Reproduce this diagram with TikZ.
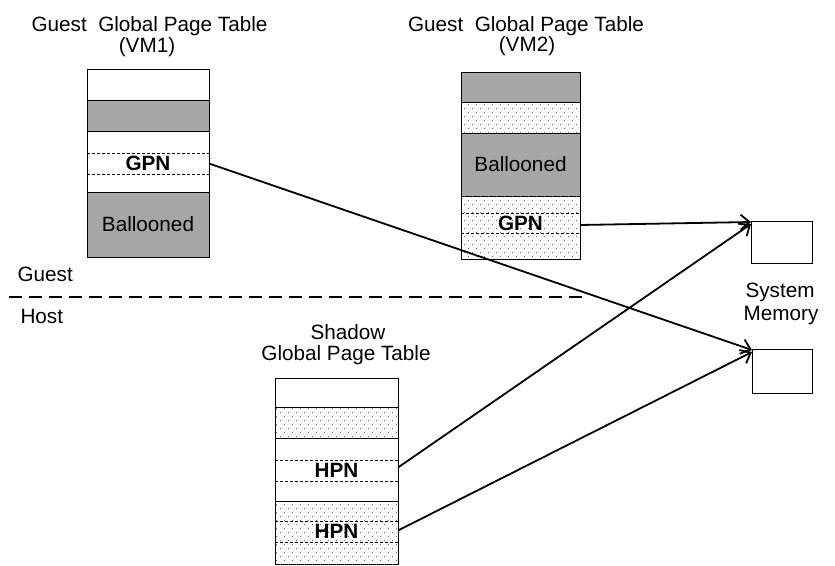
\documentclass[tikz,border=0pt]{standalone}
\usepackage{fontspec}
\setmainfont{Liberation Sans}
\usetikzlibrary{arrows.meta,patterns.meta}
\definecolor{boxgray}{RGB}{166,166,166}
\definecolor{dotgray}{RGB}{100,100,100}
\tikzdeclarepattern{
  name=sparsedots,
  type=uncolored,
  bottom left={(-0.5pt,-0.5pt)},
  top right={(7.5pt,7.5pt)},
  tile size={(8pt,8pt)},
  code={
    \fill (0pt,0pt) rectangle (1pt,1pt);
    \fill (4pt,4pt) rectangle (5pt,5pt);
  }
}
\tikzset{
  cell/.style={draw, line width=0.9pt, inner sep=0pt, outer sep=0pt},
  grayc/.style={cell, fill=boxgray},
  whitec/.style={cell, fill=white},
  dotc/.style={cell, fill=white, postaction={pattern=sparsedots, pattern color=dotgray}},
  strip/.style={inner sep=0pt, outer sep=0pt},
  dashedge/.style={line width=0.9pt, dash pattern=on 3pt off 2pt},
  arr/.style={line width=1.8pt, -{Straight Barb[length=9pt,width=15pt,line width=1.8pt]}},
  label/.style={anchor=base}
}
\begin{document}
\begin{tikzpicture}[x=1pt,y=-1pt,font=\fontsize{20.7}{24}\selectfont]
\useasboundingbox (0,0) rectangle (835,565);
\fill[white] (0,0) rectangle (835,565);

% ---- VM1 table ----
\node[whitec, minimum width=122pt, minimum height=31pt] (a1) at (148,84.5) {};
\node[grayc,  minimum width=122pt, minimum height=31pt] (a2) at (148,115.5) {};
\node[whitec, minimum width=122pt, minimum height=61pt] (a3) at (148,161.5) {};
\node[strip,  minimum width=122pt, minimum height=21pt] (gpn1) at (148,163.5) {\bfseries GPN};
\node[grayc,  minimum width=122pt, minimum height=65pt] (a4) at (148,224.5) {Ballooned};
\draw[dashedge] (gpn1.north west) -- (gpn1.north east);
\draw[dashedge] (gpn1.south west) -- (gpn1.south east);

% ---- VM2 table ----
\node[grayc, minimum width=119pt, minimum height=30pt] (b1) at (520.5,87) {};
\node[dotc,  minimum width=119pt, minimum height=31pt] (b2) at (520.5,117.5) {};
\node[grayc, minimum width=119pt, minimum height=63pt] (b3) at (520.5,164.5) {Ballooned};
\node[dotc,  minimum width=119pt, minimum height=63pt] (b4) at (520.5,227.5) {};
\node[strip, minimum width=119pt, minimum height=20pt] (gpn2) at (520.5,223) {\bfseries GPN};
\draw[dashedge] (gpn2.north west) -- (gpn2.north east);
\draw[dashedge] (gpn2.south west) -- (gpn2.south east);

% ---- Shadow table ----
\node[whitec, minimum width=123pt, minimum height=29pt] (c1) at (336.5,392.5) {};
\node[dotc,   minimum width=123pt, minimum height=31pt] (c2) at (336.5,422.5) {};
\node[whitec, minimum width=123pt, minimum height=63pt] (c3) at (336.5,469.5) {};
\node[strip,  minimum width=123pt, minimum height=21pt] (hpn1) at (336.5,470.5) {\bfseries HPN};
\node[dotc,   minimum width=123pt, minimum height=63pt] (c4) at (336.5,532.5) {};
\node[strip,  minimum width=123pt, minimum height=21pt] (hpn2) at (336.5,531.5) {\bfseries HPN};
\draw[dashedge] (hpn1.north west) -- (hpn1.north east);
\draw[dashedge] (hpn1.south west) -- (hpn1.south east);
\draw[dashedge] (hpn2.north west) -- (hpn2.north east);
\draw[dashedge] (hpn2.south west) -- (hpn2.south east);

% ---- System memory ----
\node[whitec, minimum width=61pt, minimum height=42pt] (m1) at (781.5,242) {};
\node[whitec, minimum width=60pt, minimum height=44pt] (m2) at (782,371) {};

% ---- texts ----
\node[label] (t1a) at (149.5,31.5) {Guest\ \ Global Page Table};
\node[label] (t1b) at (147,52) {(VM1)};
\node[label] (t2a) at (526,31) {Guest\ \ Global Page Table};
\node[label] (t2b) at (527,51.5) {(VM2)};
\node[label] (t3a) at (348,339) {Shadow};
\node[label] (t3b) at (346,360) {Global Page Table};
\node[anchor=base west] (guest) at (14,281) {Guest};
\node[anchor=base west] (host) at (17,323) {Host};
\node[label] (sys) at (780,297) {System};
\node[label] (mem) at (781,320) {Memory};

% ---- guest/host separator ----
\coordinate (sepL) at (9,297);
\coordinate (sepR) at (583,297);
\draw[line width=1.8pt, dash pattern=on 13pt off 7pt] (sepL) -- (sepR);

% ---- arrows ----
\draw[arr] (gpn1.east) -- ([yshift=-1pt]m2.north west);
\draw[arr] ([yshift=-2pt]gpn2.east) -- ([yshift=-1pt]m1.north west);
\draw[arr] ([yshift=3pt]hpn1.east) -- ([yshift=-3pt]m1.north west);
\draw[arr] ([yshift=1pt]hpn2.east) -- ([yshift=-3pt]m2.north west);
\end{tikzpicture}
\end{document}
